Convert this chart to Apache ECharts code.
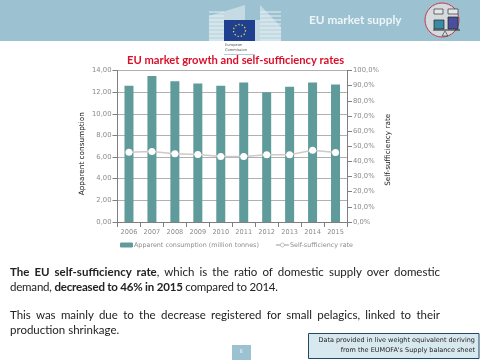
<!DOCTYPE html>
<html><head><meta charset="utf-8">
<script src="https://cdn.jsdelivr.net/npm/echarts@6/dist/echarts.min.js"></script>
<style>
html,body{margin:0;padding:0;background:#fff;overflow:hidden}
#c{position:absolute;left:0;top:0;width:480px;height:360px}
.p{position:absolute;left:10px;width:430px;font:11.5px/15px Lato,sans-serif;color:#222;white-space:nowrap}
.f{text-align:justify;text-align-last:justify;white-space:normal}
</style></head><body>
<div id="c"></div>
<div class="p" style="top:264px"><div class="f"><b>The EU self-sufficiency rate</b>, which is the ratio of domestic supply over domestic</div><div style="letter-spacing:-0.2px">demand, <b>decreased to 46% in 2015</b> compared to 2014.</div></div>
<div class="p" style="top:307px"><div class="f">This was mainly due to the decrease registered for small pelagics, linked to their</div><div>production shrinkage.</div></div>
<script>
var years = ['2006','2007','2008','2009','2010','2011','2012','2013','2014','2015'];
var consumption = [12.6,13.5,13.0,12.8,12.6,12.9,12.0,12.5,12.9,12.7];
var selfSufficiency = [46,46.5,45,44.5,43.3,43.2,44.4,44.4,47.4,45.8];
var leftTicks = 2, rightTicks = 10;
var ch = echarts.init(document.getElementById('c'));
var grey = '#8c8c8c', tick = '#7f7f7f', font = '"DejaVu Sans",sans-serif';
var stripes = [];
[12,16,20,24,28,32,36,40].forEach(function(y){
  stripes.push({type:'line',shape:{x1:209,y1:y,x2:224,y2:y},style:{stroke:'#e4eff3',lineWidth:1}});
  stripes.push({type:'line',shape:{x1:260,y1:y,x2:281,y2:y},style:{stroke:'#e4eff3',lineWidth:1}});
});
ch.setOption({
  animation:false,
  backgroundColor:'#fff',
  title:{text:'EU market growth and self-sufficiency rates',left:127,top:55,padding:0,itemGap:0,
    textStyle:{fontFamily:'Lato',fontSize:11.2,fontWeight:'bold',color:'#d8102a'}},
  legend:{top:242,left:120,padding:0,itemGap:16,itemWidth:13,itemHeight:5,
    textStyle:{fontFamily:font,fontSize:6.4,color:'#8c8c8c',padding:[0,0,0,-4]},
    data:[{name:'Apparent consumption (million tonnes)'},
          {name:'Self-sufficiency rate',itemStyle:{color:'#fff',borderColor:'#b5b5b5',borderWidth:0.8}}]},
  grid:{left:117.5,right:133,top:70.5,bottom:138,containLabel:false},
  xAxis:{type:'category',data:years,
    axisLine:{lineStyle:{color:tick}},axisTick:{show:true,lineStyle:{color:tick}},
    axisLabel:{fontFamily:font,fontSize:6.6,color:grey,margin:7,interval:0}},
  yAxis:[
   {type:'value',min:0,max:14,interval:leftTicks,name:'Apparent consumption',nameLocation:'middle',nameGap:32,
    nameTextStyle:{fontFamily:font,fontSize:7.3,color:'#222',padding:[0,15,0,0]},
    axisLine:{show:true,lineStyle:{color:tick}},axisTick:{show:true,lineStyle:{color:tick}},
    axisLabel:{fontFamily:font,fontSize:6.8,color:grey,margin:6,formatter:function(v){return v.toFixed(2).replace('.',',')}},
    splitLine:{lineStyle:{color:'#b0b0b0'}}},
   {type:'value',min:0,max:100,interval:rightTicks,name:'Self-sufficiency rate',nameLocation:'middle',nameGap:38,
    nameRotate:90,
    nameTextStyle:{fontFamily:font,fontSize:7.3,color:'#222',padding:[0,7,0,0]},
    axisLine:{show:true,lineStyle:{color:tick}},axisTick:{show:true,lineStyle:{color:tick}},
    axisLabel:{fontFamily:font,fontSize:6.8,color:grey,margin:6,formatter:function(v){return v.toFixed(1).replace('.',',')+'%'}},
    splitLine:{show:false}}
  ],
  series:[
   {name:'Apparent consumption (million tonnes)',type:'bar',data:consumption,barWidth:9,itemStyle:{color:'#5f9b9b'}},
   {name:'Self-sufficiency rate',type:'line',yAxisIndex:1,data:selfSufficiency,symbol:'circle',symbolSize:7,
    lineStyle:{color:'#cfc9c9',width:1.5},itemStyle:{color:'#fff',borderColor:'#fff',borderWidth:0}}
  ],
  graphic:[
   {type:'rect',z:-1,shape:{x:0,y:0,width:480,height:41},style:{fill:'#9cc1d0'}},
   {type:'polygon',shape:{points:[[209,16],[245,5],[245,20],[224,20],[224,41],[209,41]]},style:{fill:'#c4dbe4'}},
   {type:'polygon',shape:{points:[[260,5],[281,27],[281,41],[255,41],[255,20],[260,20]]},style:{fill:'#c4dbe4'}}
  ].concat(stripes).concat([
   {type:'rect',shape:{x:224,y:20,width:31,height:21},style:{fill:'#1f3f8f'}},
   {type:'circle',shape:{cx:239.5,cy:30.5,r:6},style:{fill:'none',stroke:'#e8d23a',lineWidth:1.3,lineDash:[1.3,2]}},
   {type:'text',x:225,y:43,style:{text:'European\nCommission',font:'3.6px '+font,fill:'#555',lineHeight:5}},
   {type:'rect',shape:{x:224,y:54,width:31,height:1},style:{fill:'#a9cfdc'}},
   {type:'text',x:309,y:14,style:{text:'EU market supply',font:'bold 11.8px Lato',fill:'#eef5f8'}},
   {type:'circle',shape:{cx:442,cy:20,r:17},style:{fill:'#d5dade',stroke:'#c03a50',lineWidth:1}},
   {type:'rect',shape:{x:434,y:9,width:9,height:5},style:{fill:'#e6e6ea',stroke:'#333',lineWidth:0.7}},
   {type:'rect',shape:{x:448,y:9,width:10,height:5},style:{fill:'#e6e6ea',stroke:'#333',lineWidth:0.7}},
   {type:'rect',shape:{x:434,y:20,width:10,height:9},style:{fill:'#3b8aa5',stroke:'#222',lineWidth:0.7}},
   {type:'rect',shape:{x:448,y:17,width:10,height:12},style:{fill:'#4a4f9c',stroke:'#222',lineWidth:0.7}},
   {type:'rect',shape:{x:433,y:29.5,width:27,height:1},style:{fill:'#222'}},
   {type:'polygon',shape:{points:[[445,31],[442,36],[448,36]]},style:{fill:'none',stroke:'#444',lineWidth:0.7}},
   {type:'rect',shape:{x:232,y:345,width:19,height:15},style:{fill:'#9cc1d0'}},
   {type:'text',x:241,y:352,style:{text:'8',font:'5px '+font,fill:'#eef5f8',align:'center',verticalAlign:'middle'}},
   {type:'rect',shape:{x:308.5,y:333.5,width:170.5,height:25},style:{fill:'#d8e8ef',stroke:'#1f4a66',lineWidth:1}},
   {type:'text',x:475,y:337,style:{text:'Data provided in live weight equivalent deriving',font:'6.5px '+font,fill:'#222',align:'right'}},
   {type:'text',x:475,y:346.5,style:{text:"from the EUMOFA's Supply balance sheet",font:'6.5px '+font,fill:'#222',align:'right'}}
  ])
});
</script></body></html>
